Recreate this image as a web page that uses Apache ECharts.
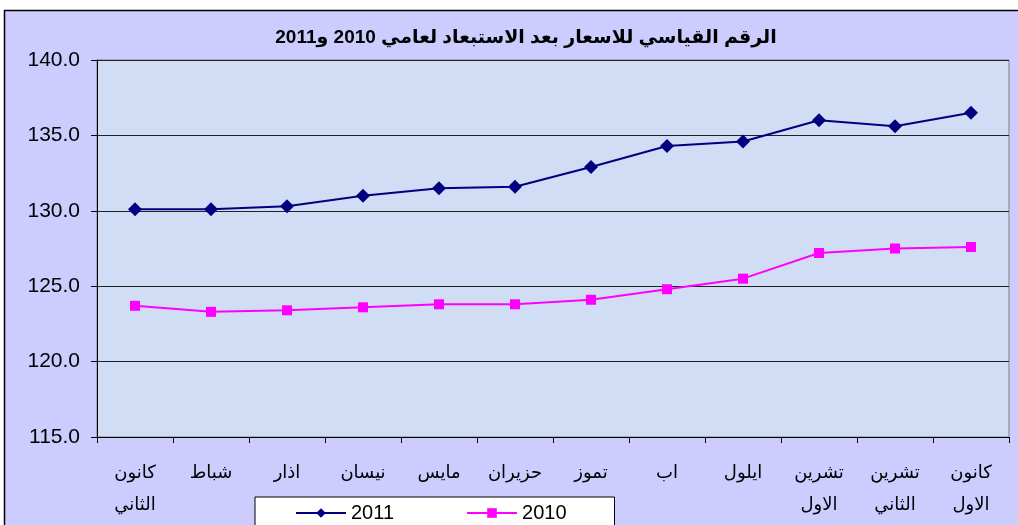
<!DOCTYPE html>
<html>
<head>
<meta charset="utf-8">
<script src="https://cdn.jsdelivr.net/npm/echarts@6/dist/echarts.min.js"></script>
<style>
  html, body { margin: 0; padding: 0; background: #fff; }
  #price-chart { width: 1018px; height: 525px; }
</style>
</head>
<body>
<div id="price-chart"></div>
<script>
// الاشهر (محور السيني)
const months = ['كانون\nالثاني', 'شباط', 'اذار', 'نيسان', 'مايس', 'حزيران', 'تموز', 'اب', 'ايلول', 'تشرين\nالاول', 'تشرين\nالثاني', 'كانون\nالاول'];
const seriesNames = ['2011', '2010'];
const values2011 = [130.1, 130.1, 130.3, 131.0, 131.5, 131.6, 132.9, 134.3, 134.6, 136.0, 135.6, 136.5];
const values2010 = [123.7, 123.3, 123.4, 123.6, 123.8, 123.8, 124.1, 124.8, 125.5, 127.2, 127.5, 127.6];
const yMin = 115, yMax = 140, yStep = 5;

const chart = echarts.init(document.getElementById('price-chart'), null, { renderer: 'canvas' });

const option = {
  animation: false,
  backgroundColor: '#ffffff',
  textStyle: { fontFamily: 'Arial, "Liberation Sans", "DejaVu Sans", sans-serif', color: '#000' },
  graphic: [
    {
      type: 'rect',
      z: -10,
      shape: { x: 4.5, y: 10.5, width: 1030, height: 530 },
      style: { fill: '#ccccff', stroke: '#000', lineWidth: 1.5 }
    }
  ],
  title: {
    text: 'الرقم القياسي للاسعار بعد الاستبعاد لعامي 2010 و2011',
    left: 521,
    top: 23,
    textAlign: 'center',
    textStyle: { fontSize: 19, fontWeight: 'bold', color: '#000' }
  },
  legend: {
    data: seriesNames,
    left: 255,
    top: 497,
    padding: [6, 48, 10, 40],
    itemGap: 72,
    itemWidth: 50,
    itemHeight: 12,
    backgroundColor: '#ffffff',
    borderColor: '#000',
    borderWidth: 1,
    borderRadius: 0,
    textStyle: { fontSize: 20, color: '#000' }
  },
  grid: {
    left: 97, right: 9, top: 60, bottom: 88,
    show: true,
    backgroundColor: '#d0ddf5',
    borderColor: '#808080',
    borderWidth: 1
  },
  xAxis: {
    type: 'category',
    data: months,
    boundaryGap: true,
    axisLine: { lineStyle: { color: '#000', width: 1 } },
    axisTick: { show: true, length: 6, lineStyle: { color: '#000' } },
    axisLabel: { color: '#000', fontSize: 18, margin: 20, lineHeight: 32, interval: 0 }
  },
  yAxis: {
    type: 'value',
    min: yMin,
    max: yMax,
    interval: yStep,
    axisLine: { show: true, lineStyle: { color: '#000', width: 1 } },
    axisTick: { show: true, length: 6, lineStyle: { color: '#000' } },
    axisLabel: { color: '#000', fontSize: 21, margin: 17, formatter: v => v.toFixed(1) },
    splitLine: { lineStyle: { color: '#222', width: 1 } }
  },
  series: [
    {
      name: seriesNames[0],
      type: 'line',
      data: values2011,
      symbol: 'diamond',
      symbolSize: 14,
      lineStyle: { color: '#000080', width: 2 },
      itemStyle: { color: '#000080' }
    },
    {
      name: seriesNames[1],
      type: 'line',
      data: values2010,
      symbol: 'rect',
      symbolSize: 10,
      lineStyle: { color: '#ff00ff', width: 2 },
      itemStyle: { color: '#ff00ff' }
    }
  ]
};

chart.setOption(option);
</script>
</body>
</html>
